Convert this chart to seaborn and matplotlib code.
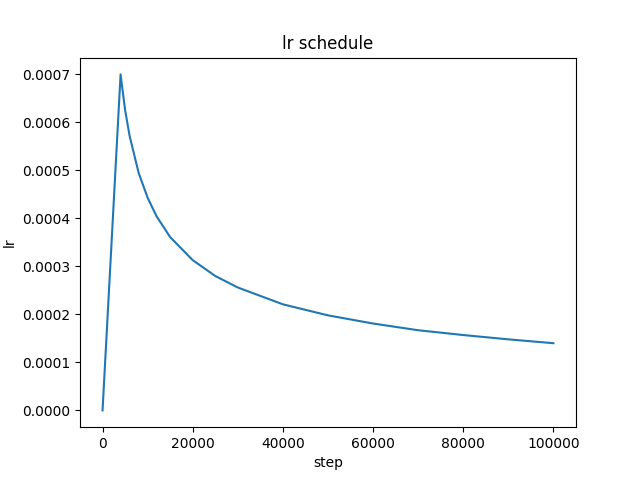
import matplotlib
matplotlib.use("Agg")
import matplotlib.pyplot as plt
import seaborn as sns
import pandas as pd

# values
steps = [0, 4000, 5000, 6000, 8000, 10000, 12000, 15000, 20000, 25000, 30000,
         40000, 50000, 60000, 70000, 80000, 90000, 100000]
lrs = [0.0, 0.0007, 0.000626, 0.000572, 0.000495, 0.000443, 0.000404, 0.000361,
       0.000313, 0.00028, 0.000256, 0.000221, 0.000198, 0.000181, 0.000167,
       0.000157, 0.000148, 0.00014]

df = pd.DataFrame({"step": steps, "lr": lrs})

fig, ax = plt.subplots(figsize=(6.4, 4.8), dpi=100)
sns.lineplot(data=df, x="step", y="lr", ax=ax, color="#1f77b4")
ax.set_title("lr schedule")
ax.set_xlabel("step")
ax.set_ylabel("lr")
fig.savefig("out.png", dpi=100)
